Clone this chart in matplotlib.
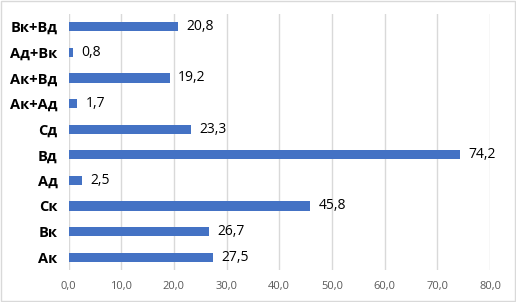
import matplotlib
matplotlib.use("Agg")
import matplotlib.pyplot as plt
from matplotlib.patches import Rectangle

# data, bottom to top
categories = ["Ак", "Вк", "Ск", "Ад", "Вд", "Сд", "Ак+Ад", "Ак+Вд", "Ад+Вк", "Вк+Вд"]
values = [27.5, 26.7, 45.8, 2.5, 74.2, 23.3, 1.7, 19.2, 0.8, 20.8]
xticks = [0, 10, 20, 30, 40, 50, 60, 70, 80]

plt.rcParams['font.family'] = ['Open Sans', 'DejaVu Sans']

fig = plt.figure(figsize=(5.16, 3.02), dpi=100)
ax = fig.add_axes([0.1328, 0.106, 0.817, 0.848])

y = range(len(categories))
ax.barh(y, values, height=0.36, color='#4472C4', zorder=3)
for i, v in enumerate(values):
    ax.text(v + 1.6, i, ("%.1f" % v).replace(".", ","), va='center', ha='left',
            fontsize=10, color='#000000')

ax.set_xlim(0, 80)
ax.set_ylim(-0.5, len(categories) - 0.5)
ax.set_xticks(xticks)
ax.set_xticklabels([("%.1f" % t).replace(".", ",") for t in xticks], fontsize=8, color='#595959')
ax.set_yticks(list(y))
ax.set_yticklabels(categories, fontsize=10.5, fontweight='bold', color='#000000')
ax.tick_params(axis='both', length=0)
ax.tick_params(axis='x', pad=8)
ax.tick_params(axis='y', pad=8)
ax.grid(axis='x', color='#D9D9D9', linewidth=1, zorder=0)
for s in ax.spines.values():
    s.set_visible(False)

fig.patches.append(Rectangle((0.001, 0.002), 0.997, 0.995, transform=fig.transFigure,
                             fill=False, edgecolor='#D9D9D9', linewidth=1))

fig.savefig("out.png", dpi=100)
